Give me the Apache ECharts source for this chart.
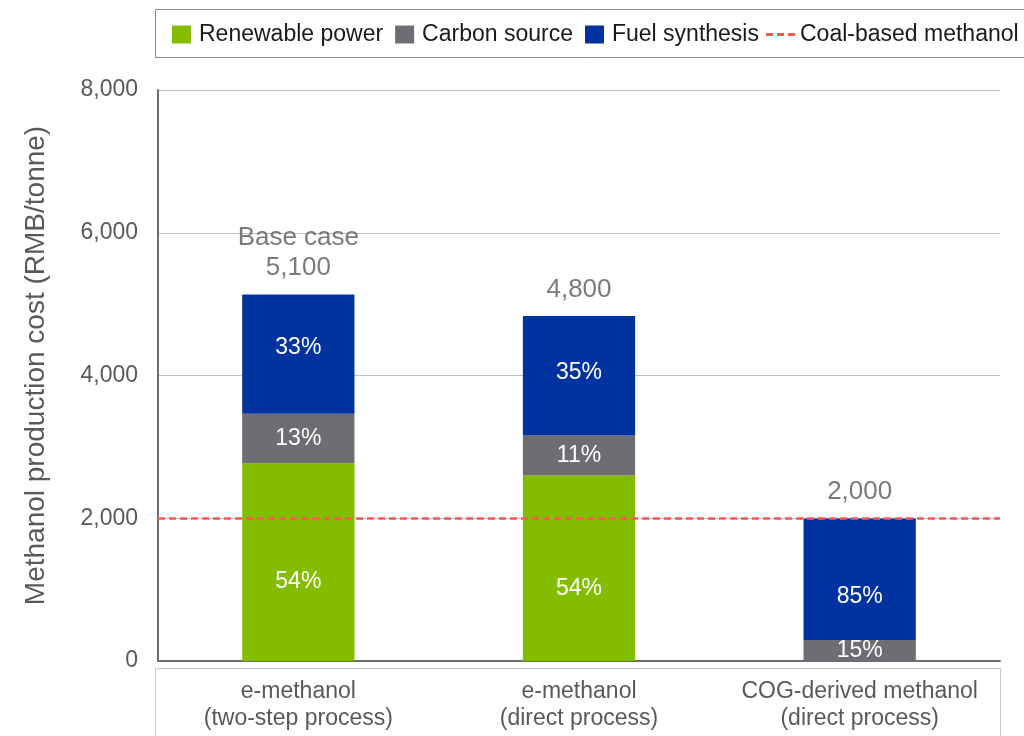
<!DOCTYPE html>
<html>
<head>
<meta charset="utf-8">
<title>Methanol production cost</title>
<script src="https://cdn.jsdelivr.net/npm/echarts@6/dist/echarts.min.js"></script>
<style>
  html, body { margin: 0; padding: 0; background: #fff; }
  #chart { width: 1024px; height: 736px; }
</style>
</head>
<body>
<div id="chart"></div>
<script>
// --- data ---
const categories = ['e-methanol\n(two-step process)', 'e-methanol\n(direct process)', 'COG-derived methanol\n(direct process)']
const renewablePower = [2770, 2600, 0]
const carbonSource = [695, 560, 295]
const fuelSynthesis = [1670, 1675, 1700]
const renewablePct = ['54%', '54%', '']
const carbonPct = ['13%', '11%', '15%']
const fuelPct = ['33%', '35%', '85%']
const totalLabels = ['Base case\n5,100', '4,800', '2,000']
const coalBasedMethanol = 2000
const yMin = 0
const yMax = 8000
const yInterval = 2000

// --- styling ---
const FONT = '"Liberation Sans", Arial, sans-serif'
const GREEN = '#84bd00'
const GREY = '#6d6e71'
const BLUE = '#0033a0'
const RED = '#ff5656'
const TEXT_GREY = '#595959'
const fuelLabelNudge = [-6, -3, 17]
const dashIcon = 'path://M0,0h7v3h-7z M11,0h7v3h-7z M22,0h7v3h-7z'

const totals = categories.map((_, i) => renewablePower[i] + carbonSource[i] + fuelSynthesis[i])

const chart = echarts.init(document.getElementById('chart'), null, { renderer: 'canvas' })

const pctLabel = (arr, dy) => ({
  show: true,
  position: 'inside',
  offset: [0, dy],
  color: '#fff',
  fontFamily: FONT,
  fontSize: 23,
  formatter: p => arr[p.dataIndex] || ''
})

const legendText = { fontFamily: FONT, fontSize: 23, color: '#1a1a1a', padding: [0, 0, 0, 3] }

const option = {
  backgroundColor: '#fff',
  animation: false,
  textStyle: { fontFamily: FONT },
  legend: [
    {
      left: 172,
      top: 23,
      padding: 0,
      itemGap: 12,
      itemWidth: 19,
      itemHeight: 18,
      icon: 'rect',
      textStyle: legendText,
      data: ['Renewable power', 'Carbon source', 'Fuel synthesis']
    },
    {
      left: 766,
      top: 23,
      padding: 0,
      itemWidth: 29,
      itemHeight: 3,
      icon: dashIcon,
      textStyle: { fontFamily: FONT, fontSize: 23, color: '#1a1a1a' },
      data: ['Coal-based methanol']
    }
  ],
  grid: { left: 158, right: 24, top: 90, bottom: 75, containLabel: false },
  xAxis: {
    type: 'category',
    data: categories,
    axisLine: { show: true, lineStyle: { color: GREY, width: 2 } },
    axisTick: { show: false },
    axisLabel: {
      interval: 0,
      margin: 17,
      fontFamily: FONT,
      fontSize: 23,
      lineHeight: 27,
      color: TEXT_GREY
    }
  },
  yAxis: {
    type: 'value',
    min: yMin,
    max: yMax,
    interval: yInterval,
    name: 'Methanol production cost (RMB/tonne)',
    nameLocation: 'middle',
    nameGap: 108,
    nameTextStyle: { fontFamily: FONT, fontSize: 28, color: TEXT_GREY, padding: [0, 0, 0, 20] },
    axisLine: { show: true, lineStyle: { color: GREY, width: 2 } },
    axisTick: { show: false },
    splitLine: { lineStyle: { color: '#c0c0c0', width: 1 } },
    axisLabel: {
      margin: 20,
      fontFamily: FONT,
      fontSize: 23,
      color: TEXT_GREY,
      formatter: v => v.toLocaleString('en-US')
    }
  },
  graphic: [
    {
      type: 'rect',
      shape: { x: 155.5, y: 9.5, width: 900, height: 48 },
      style: { fill: 'none', stroke: '#8c8c8c', lineWidth: 1 },
      silent: true,
      z: -1
    },
    {
      type: 'rect',
      shape: { x: 155.5, y: 668.5, width: 845, height: 90 },
      style: { fill: 'none', stroke: '#c8c8c8', lineWidth: 1 },
      silent: true,
      z: -1
    }
  ],
  series: [
    {
      name: 'Renewable power',
      type: 'bar',
      stack: 'cost',
      barWidth: '40%',
      itemStyle: { color: GREEN },
      label: pctLabel(renewablePct, 20),
      data: renewablePower
    },
    {
      name: 'Carbon source',
      type: 'bar',
      stack: 'cost',
      itemStyle: { color: GREY },
      label: pctLabel(carbonPct, 0),
      data: carbonSource
    },
    {
      name: 'Fuel synthesis',
      type: 'bar',
      stack: 'cost',
      itemStyle: { color: BLUE },
      label: pctLabel(fuelPct, 0),
      data: fuelSynthesis.map((v, i) => ({ value: v, label: { offset: [0, fuelLabelNudge[i]] } }))
    },
    {
      name: 'Totals',
      type: 'scatter',
      symbolSize: 1,
      itemStyle: { color: 'transparent' },
      silent: true,
      label: {
        show: true,
        position: 'top',
        distance: 11,
        fontFamily: FONT,
        fontSize: 26,
        lineHeight: 30,
        color: TEXT_GREY,
        formatter: p => totalLabels[p.dataIndex]
      },
      data: totals
    },
    {
      name: 'Coal-based methanol',
      type: 'line',
      symbol: 'none',
      data: [],
      itemStyle: { color: RED },
      lineStyle: { color: RED, type: [7, 4], width: 2.5 },
      markLine: {
        silent: true,
        symbol: 'none',
        label: { show: false },
        lineStyle: { color: RED, type: [7, 4], width: 2.5 },
        data: [{ yAxis: coalBasedMethanol }]
      }
    }
  ]
}

chart.setOption(option)
window.addEventListener('resize', () => chart.resize())
</script>
</body>
</html>
